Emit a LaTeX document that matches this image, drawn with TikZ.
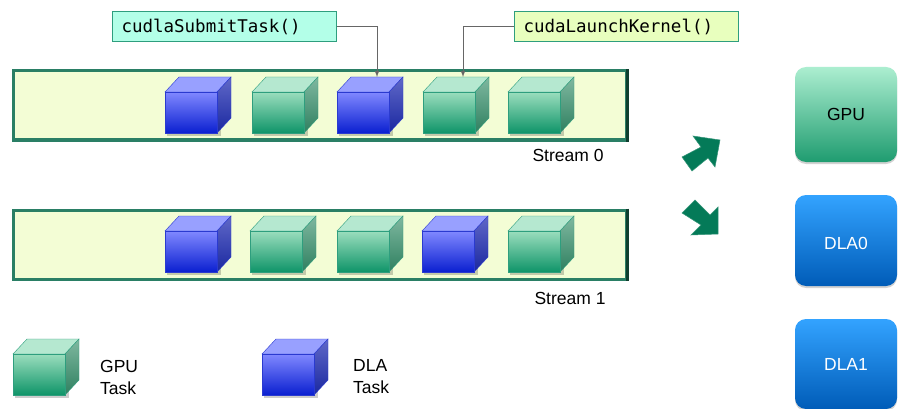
\documentclass[tikz,border=0pt]{standalone}
\usepackage{fontspec}
\setmainfont{Liberation Sans}
\setmonofont{DejaVu Sans Mono}
\usepackage{tikz}
\usetikzlibrary{shadows}
\definecolor{barfill}{HTML}{F3FDD5}
\definecolor{barline}{HTML}{2A7F65}
\definecolor{bardark}{HTML}{0F3F2F}
\definecolor{gpuline}{HTML}{2E9E7E}
\definecolor{dlaline}{HTML}{2A3AD0}
\definecolor{flowgreen}{HTML}{047A58}
\tikzset{
  facebase/.style = {minimum width=52pt, minimum height=41pt, inner sep=0pt, anchor=north west},
  stream/.style = {draw=barline, line width=3pt, fill=barfill, minimum width=613pt, minimum height=69pt, inner sep=0pt},
  streamedge/.style = {draw=bardark, line width=3pt},
  call/.style = {draw=gpuline, line width=1pt, minimum height=30pt, text width=205pt, inner xsep=9.5pt, inner ysep=0pt, align=left, font=\ttfamily\fontsize{17.5}{20}\selectfont},
  device/.style = {rounded corners=11pt, minimum width=102pt, inner sep=0pt, font=\fontsize{17.5}{22}\selectfont, drop shadow={shadow xshift=0pt, shadow yshift=-2pt, opacity=0.35}},
  label/.style = {inner sep=0pt, align=left, font=\fontsize{17.5}{22}\selectfont},
  link/.style = {draw=black!60, line width=1pt},
  flow/.style = {fill=flowgreen, draw=flowgreen!80!white, line width=0.5pt, line join=miter},
  gpucube/.pic = {
    \path[fill=black, fill opacity=0.2] (2,17) rectangle (56,59);
    \path[draw=gpuline, fill={rgb,255:red,181;green,232;blue,208}] (0,15) -- (14,0) -- (66,0) -- (52,15) -- cycle;
    \path[draw=gpuline, top color={rgb,255:red,127;green,184;blue,160}, bottom color={rgb,255:red,47;green,128;blue,96}] (52,15) -- (66,0) -- (66,41) -- (52,56) -- cycle;
    \node[facebase, draw=gpuline, top color={rgb,255:red,154;green,221;blue,189}, bottom color={rgb,255:red,14;green,148;blue,104}] (-front) at (0,15) {};
    \coordinate (-top) at (40,0);
  },
  dlacube/.pic = {
    \path[fill=black, fill opacity=0.2] (2,17) rectangle (56,59);
    \path[draw=dlaline, fill={rgb,255:red,152;green,160;blue,255}] (0,15) -- (14,0) -- (66,0) -- (52,15) -- cycle;
    \path[draw=dlaline, top color={rgb,255:red,96;green,104;blue,200}, bottom color={rgb,255:red,26;green,40;blue,160}] (52,15) -- (66,0) -- (66,41) -- (52,56) -- cycle;
    \node[facebase, draw=dlaline, top color={rgb,255:red,128;green,136;blue,255}, bottom color={rgb,255:red,10;green,31;blue,208}] (-front) at (0,15) {};
    \coordinate (-top) at (40,0);
  }
}
\begin{document}
\begin{tikzpicture}[x=1pt, y=-1pt]
\useasboundingbox[fill=white] (0,0) rectangle (899,409);
% streams
\node[stream] (s0) at (319.5,105.5) {};
\node[stream] (s1) at (319.5,244.5) {};
\draw[streamedge] (s0.north east) -- (s0.south east);
\draw[streamedge] (s1.north east) -- (s1.south east);
\node[label] (n0) at (568,155) {Stream 0};
\node[label] (n1) at (570,298) {Stream 1};
% first row
\pic (c00) at (165,77) {dlacube};
\pic (c01) at (252,77) {gpucube};
\pic (c02) at (337,77) {dlacube};
\pic (c03) at (423,77) {gpucube};
\pic (c04) at (508,77) {gpucube};
% second row
\pic (c10) at (165,216) {dlacube};
\pic (c11) at (250,216) {gpucube};
\pic (c12) at (337,216) {gpucube};
\pic (c13) at (422,216) {dlacube};
\pic (c14) at (508,216) {gpucube};
% calls
\node[call, fill={rgb,255:red,179;green,255;blue,232}] (submit) at (224,27) {cudlaSubmitTask()};
\node[call, fill={rgb,255:red,232;green,255;blue,190}] (launch) at (626,27) {cudaLaunchKernel()};
\draw[link, -latex] (submit.east) -| (c02-top);
\draw[link, -latex] (launch.west) -| (c03-top);
% legend
\pic (g) at (13,339) {gpucube};
\pic (d) at (262,339) {dlacube};
\node[label, anchor=west] (gl) at (100,377) {GPU\\Task};
\node[label, anchor=west] (dl) at (353,377) {DLA\\Task};
% devices
\node[device, minimum height=95pt, top color={rgb,255:red,172;green,238;blue,208}, bottom color={rgb,255:red,31;green,156;blue,112}] (gpu) at (846,114.5) {GPU};
\node[device, minimum height=91pt, top color={rgb,255:red,51;green,163;blue,255}, bottom color={rgb,255:red,0;green,92;blue,184}, text=white] (dla0) at (846,240.5) {\raisebox{-9pt}[0pt][0pt]{DLA0}};
\node[device, minimum height=90pt, top color={rgb,255:red,51;green,163;blue,255}, bottom color={rgb,255:red,0;green,92;blue,184}, text=white] (dla1) at (846,364) {DLA1};
% block arrows
\path[flow] (720,140) -- (715,167) -- (708,158) -- (692,171) -- (682,157) -- (701,147) -- (693,136) -- cycle;
\path[flow] (718,234) -- (691,235) -- (701,225) -- (682,213) -- (695,200) -- (710,215) -- (718,207) -- cycle;
\end{tikzpicture}
\end{document}
